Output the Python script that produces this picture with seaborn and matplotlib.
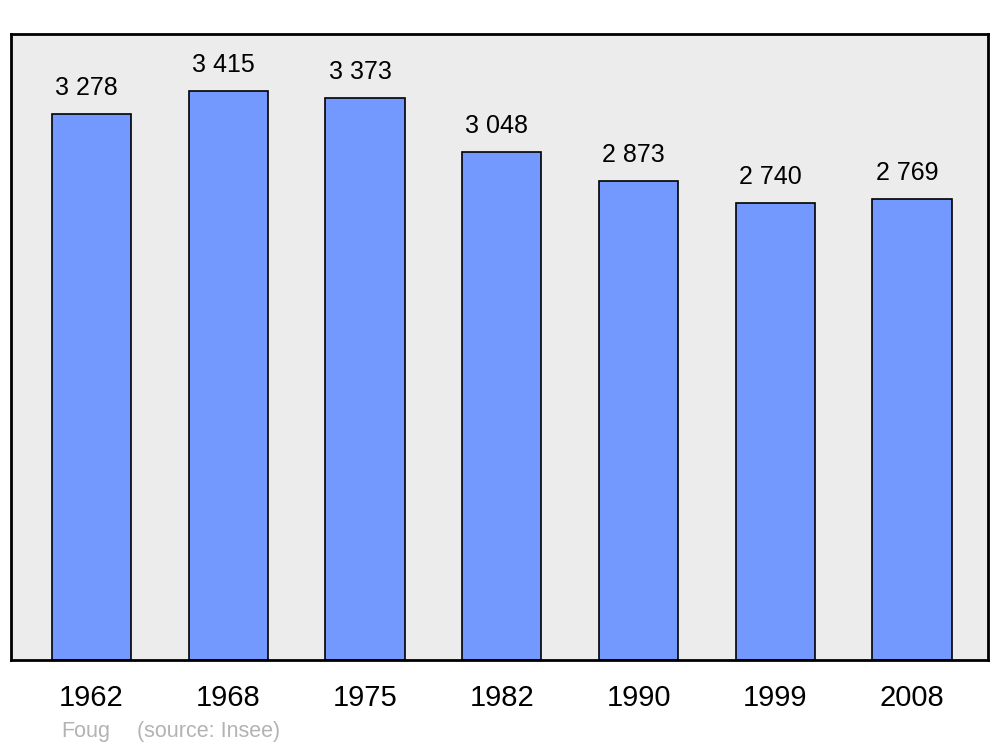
import matplotlib
matplotlib.use("Agg")
import matplotlib.pyplot as plt
import seaborn as sns
import pandas as pd

years = ["1962", "1968", "1975", "1982", "1990", "1999", "2008"]
population = [3278, 3415, 3373, 3048, 2873, 2740, 2769]
labels = ["3 278", "3 415", "3 373", "3 048", "2 873", "2 740", "2 769"]

df = pd.DataFrame({"year": years, "pop": population})

sns.set_style("white")
plt.rcParams["font.family"] = ["Liberation Sans", "DejaVu Sans"]
plt.rcParams["text.color"] = "black"
plt.rcParams["xtick.color"] = "black"

fig = plt.figure(figsize=(10, 7.47), dpi=100)
ax = fig.add_axes([0.011, 0.1165, 0.977, 0.838])
ax.set_facecolor("#ececec")

sns.barplot(data=df, x="year", y="pop", color="#7399ff", saturation=1,
            width=0.58, edgecolor="black", linewidth=1.2, ax=ax)

# value labels sit slightly left of bar centre in the original
for i, (v, lab) in enumerate(zip(population, labels)):
    ax.annotate(lab, (i, v), xytext=(-3.5, 10), textcoords="offset points",
                ha="center", va="bottom", fontsize=18, color="black")

ax.set_xlim(-0.588, 6.555)
ax.set_ylim(0, 3415 * 1.1)
ax.set_yticks([])
ax.set_xlabel("")
ax.set_ylabel("")
ax.tick_params(axis="x", length=0, pad=17, labelsize=21, labelcolor="black")
for s in ax.spines.values():
    s.set_visible(True)
    s.set_color("black")
    s.set_linewidth(2)

fig.text(0.061, 0.021, "Foug", color="#b3b3b3", fontsize=15.5, va="center")
fig.text(0.137, 0.021, "(source: Insee)", color="#b3b3b3", fontsize=15.5, va="center")

fig.savefig("out.png", dpi=100, facecolor="white")
